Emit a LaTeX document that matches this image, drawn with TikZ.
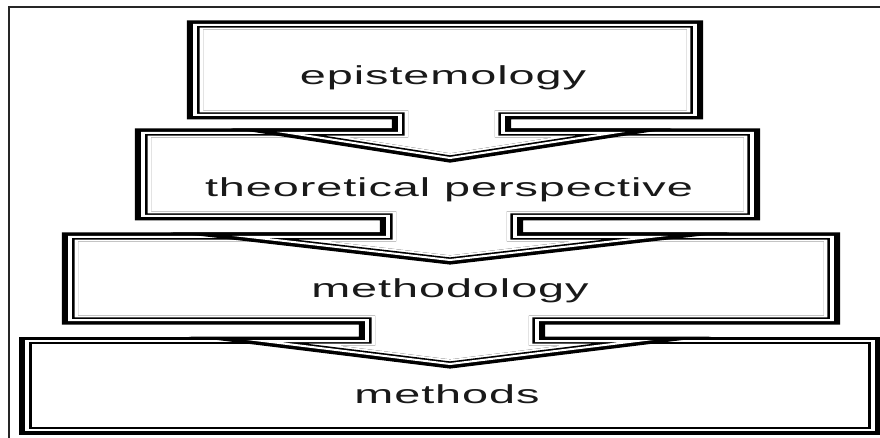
\documentclass[tikz,border=0pt]{standalone}
\usepackage{fontspec}
\newfontfamily\boxfont[LetterSpace=2]{Liberation Sans}
\newcommand\trishape[1]{%
  \path[fill=white, draw=black, line width=9pt, line join=miter] #1;
  \begin{scope}
    \clip #1;
    \draw[white, line width=9pt, line join=miter] #1;
    \draw[black, line width=5.2pt, line join=miter] #1;
  \end{scope}
  \draw[white, line width=2pt, line join=miter] #1;
}
\begin{document}
\begin{tikzpicture}[x=1pt,y=-1pt]
\tikzset{
  lbl/.style={font=\boxfont\fontsize{26}{30}\selectfont, text=black!90, anchor=base, inner sep=0pt}
}
\useasboundingbox (0,0) rectangle (880,438);
% frame
\draw[line width=1.4pt, black!85] (9,438) -- (9,7) -- (880,7);
\begin{scope}[transform canvas={xscale=1.8}, x=0.55556pt]
% methods
\trishape{(27,341) -- (873,341) -- (873,430) -- (27,430) -- cycle}
% methodology
\trishape{(70,237) -- (832,237) -- (832,320) -- (537,320) -- (537,341) -- (637,341)
  -- (450,364) -- (263,341) -- (367,341) -- (367,320) -- (70,320) -- cycle}
% theoretical perspective
\trishape{(143,133) -- (752,133) -- (752,216) -- (515,216) -- (515,237) -- (650,237)
  -- (450,260) -- (250,237) -- (388,237) -- (388,216) -- (143,216) -- cycle}
% epistemology
\trishape{(195,25) -- (695,25) -- (695,115) -- (503,115) -- (503,133) -- (612,133)
  -- (450,158) -- (290,133) -- (400,133) -- (400,115) -- (195,115) -- cycle}
\node[lbl] (epi) at (443,85) {epistemology};
\node[lbl] (theo) at (449,197) {theoretical perspective};
\node[lbl] (meth) at (450,297) {methodology};
\node[lbl] (mths) at (447,403) {methods};
\end{scope}
\end{tikzpicture}
\end{document}
